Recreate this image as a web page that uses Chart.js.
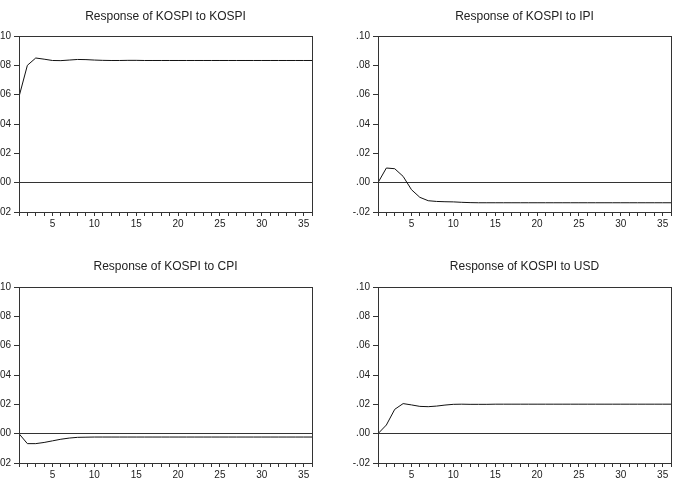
<!DOCTYPE html>
<html>
<head>
<meta charset="utf-8">
<script src="https://cdn.jsdelivr.net/npm/chart.js@4"></script>
<style>
  html, body { margin: 0; padding: 0; background: #fff; overflow: hidden; }
  body { width: 678px; height: 485px; position: relative; }
  .panel { position: absolute; }
</style>
</head>
<body>
<div class="panel" style="left:-21px; top:0px; width:337px; height:240px;"><canvas id="c1"></canvas></div>
<div class="panel" style="left:338px; top:0px; width:337px; height:240px;"><canvas id="c2"></canvas></div>
<div class="panel" style="left:-21px; top:250px; width:337px; height:235px;"><canvas id="c3"></canvas></div>
<div class="panel" style="left:338px; top:250px; width:337px; height:235px;"><canvas id="c4"></canvas></div>
<script>
// periods 1..36
const periods = [1, 2, 3, 4, 5, 6, 7, 8, 9, 10, 11, 12, 13, 14, 15, 16, 17, 18,
                 19, 20, 21, 22, 23, 24, 25, 26, 27, 28, 29, 30, 31, 32, 33, 34, 35, 36];

const respKospi = [0.0586, 0.0800, 0.0850, 0.0842, 0.0833, 0.0832, 0.0836, 0.0840, 0.0839, 0.0836,
                   0.0834, 0.0833, 0.0833, 0.0834, 0.0834, 0.0833, 0.0833, 0.0833, 0.0833, 0.0833,
                   0.0833, 0.0833, 0.0833, 0.0833, 0.0833, 0.0833, 0.0833, 0.0833, 0.0833, 0.0833,
                   0.0833, 0.0833, 0.0833, 0.0833, 0.0833, 0.0833];

const respIpi = [0.0000, 0.0100, 0.0095, 0.0043, -0.0048, -0.0100, -0.0123, -0.0128, -0.0130, -0.0131,
                 -0.0134, -0.0136, -0.0137, -0.0137, -0.0137, -0.0137, -0.0137, -0.0137, -0.0137, -0.0137,
                 -0.0137, -0.0137, -0.0137, -0.0137, -0.0137, -0.0137, -0.0137, -0.0137, -0.0137, -0.0137,
                 -0.0137, -0.0137, -0.0137, -0.0137, -0.0137, -0.0137];

const respCpi = [0.0000, -0.0068, -0.0068, -0.0060, -0.0049, -0.0038, -0.0030, -0.0025, -0.0024, -0.0023,
                 -0.0023, -0.0023, -0.0023, -0.0023, -0.0023, -0.0023, -0.0023, -0.0023, -0.0023, -0.0023,
                 -0.0023, -0.0023, -0.0023, -0.0023, -0.0023, -0.0023, -0.0023, -0.0023, -0.0023, -0.0023,
                 -0.0023, -0.0023, -0.0023, -0.0023, -0.0023, -0.0023];

const respUsd = [0.0000, 0.0059, 0.0166, 0.0205, 0.0196, 0.0186, 0.0184, 0.0188, 0.0195, 0.0200,
                 0.0201, 0.0200, 0.0200, 0.0200, 0.0201, 0.0201, 0.0201, 0.0201, 0.0201, 0.0201,
                 0.0201, 0.0201, 0.0201, 0.0201, 0.0201, 0.0201, 0.0201, 0.0201, 0.0201, 0.0201,
                 0.0201, 0.0201, 0.0201, 0.0201, 0.0201, 0.0201];

const yTicks = [-0.02, 0.00, 0.02, 0.04, 0.06, 0.08, 0.10];

const fontFamily = '"Liberation Sans", Arial, sans-serif';

// box around the plot area + title centred over the plot
const frame = {
    id: 'frame',
    afterDraw(chart, args, opts) {
        const a = chart.chartArea;
        const ctx = chart.ctx;
        ctx.save();
        ctx.strokeStyle = '#333';
        ctx.lineWidth = 1;
        ctx.strokeRect(Math.round(a.left) + 0.5, Math.round(a.top) + 0.5,
                       Math.round(a.right - a.left), Math.round(a.bottom - a.top));
        ctx.fillStyle = '#222';
        ctx.font = '12px ' + fontFamily;
        ctx.textAlign = 'center';
        ctx.textBaseline = 'alphabetic';
        ctx.fillText(opts.text, (a.left + a.right) / 2, 20);
        ctx.restore();
    }
};

function fmtY(v) {
    let s = Math.abs(v).toFixed(2).replace(/^0/, '');
    return (v < -1e-9 ? '-' : '') + s;
}

function makeChart(id, title, values, top) {
    return new Chart(document.getElementById(id), {
        type: 'line',
        data: {
            labels: periods,
            datasets: [{
                data: periods.map((p, i) => ({ x: p, y: values[i] })),
                borderColor: '#111',
                borderWidth: 1,
                pointRadius: 0,
                tension: 0,
                fill: false
            }]
        },
        options: {
            responsive: true,
            maintainAspectRatio: false,
            animation: false,
            events: [],
            layout: { padding: { left: 0, right: 4, top: top ? 36 : 37, bottom: top ? 6 : 0 } },
            plugins: {
                legend: { display: false },
                tooltip: { enabled: false },
                title: { display: false },
                frame: { text: title }
            },
            scales: {
                x: {
                    type: 'linear',
                    min: 1,
                    max: 36,
                    afterFit(scale) { scale.height = 22; },
                    afterBuildTicks(scale) {
                        scale.ticks = periods.map(p => ({ value: p }));
                    },
                    ticks: {
                        autoSkip: false,
                        maxRotation: 0,
                        padding: 2,
                        color: '#222',
                        font: { family: fontFamily, size: 10 },
                        callback: v => (v % 5 === 0 ? String(v) : '')
                    },
                    grid: {
                        drawOnChartArea: false,
                        tickLength: 4,
                        tickColor: '#333'
                    },
                    border: { display: false }
                },
                y: {
                    min: -0.02,
                    max: 0.10,
                    afterFit(scale) { scale.width = 40; },
                    afterBuildTicks(scale) {
                        scale.ticks = yTicks.map(v => ({ value: v }));
                    },
                    ticks: {
                        padding: 3,
                        color: '#222',
                        font: { family: fontFamily, size: 10 },
                        callback: v => fmtY(v)
                    },
                    grid: {
                        drawOnChartArea: true,
                        tickLength: 5,
                        tickColor: '#333',
                        color: ctx => (ctx.tick && Math.abs(ctx.tick.value) < 1e-9 ? '#333' : 'rgba(0,0,0,0)'),
                        lineWidth: 1
                    },
                    border: { display: false }
                }
            }
        },
        plugins: [frame]
    });
}

makeChart('c1', 'Response of KOSPI to KOSPI', respKospi, true);
makeChart('c2', 'Response of KOSPI to IPI', respIpi, true);
makeChart('c3', 'Response of KOSPI to CPI', respCpi, false);
makeChart('c4', 'Response of KOSPI to USD', respUsd, false);
</script>
</body>
</html>
